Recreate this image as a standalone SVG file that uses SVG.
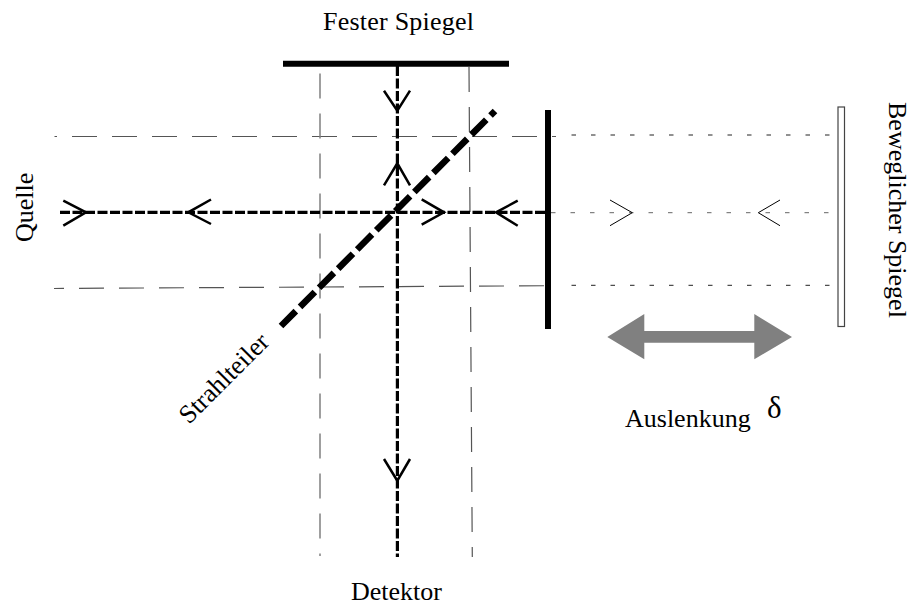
<svg xmlns="http://www.w3.org/2000/svg" width="912" height="605" viewBox="0 0 912 605">
<style>
text{font-family:"Liberation Serif","Times New Roman",serif;fill:#000;font-size:26px}
.thin{fill:none;stroke:#555;stroke-width:1.2;stroke-dasharray:25 15}
.dot{fill:none;stroke:#222;stroke-width:1;stroke-dasharray:4.5 15}
.beam{fill:none;stroke:#000;stroke-width:3.2;stroke-dasharray:10 2.5}
.head{fill:none;stroke:#000;stroke-width:2.5}
.headthin{fill:none;stroke:#000;stroke-width:1}
.mirror{fill:none;stroke:#000;stroke-width:6}
</style>
<rect width="912" height="605" fill="#fff"/>
<g id="connectors">
<line class="thin" x1="54.5" y1="136.5" x2="556" y2="136.5" stroke-dashoffset="22.5"/>
<line class="thin" x1="54" y1="288.5" x2="556" y2="285.7" stroke-dashoffset="15"/>
<line class="thin" x1="320" y1="73.5" x2="320" y2="556" style="stroke:#808080;stroke-width:1.5"/>
<line class="thin" x1="469" y1="67" x2="472.3" y2="557"/>
<line class="dot" x1="571.5" y1="135" x2="830" y2="135"/>
<line class="dot" x1="551" y1="212.7" x2="829" y2="212.7" style="stroke:#666"/>
<line class="dot" x1="571.5" y1="285.3" x2="830" y2="285.3"/>
<line class="beam" x1="60" y1="212.3" x2="548" y2="212.3"/>
<line class="beam" x1="397.4" y1="66" x2="397.4" y2="557"/>
<polyline class="head" points="63.3,200.7 86,212.3 63.3,225.7"/>
<polyline class="head" points="211,199.5 188.3,212.3 211,224"/>
<polyline class="head" points="384,90.7 397.3,110.7 410,90.7"/>
<polyline class="head" points="384,185.3 397.3,163.3 410,185.3"/>
<polyline class="head" points="421.7,199.3 444,212.3 421.7,224.7"/>
<polyline class="head" points="517.7,200.7 496,212.3 517.7,225.7"/>
<polyline class="head" points="384,459 397.3,480.7 410,459"/>
<polyline class="headthin" points="610,200 632.3,212.7 610,225.7"/>
<polyline class="headthin" points="780,200 758.3,212.7 780,225.7"/>
<polygon id="auslenkung-arrow" points="607.3,337 644.3,314 644.3,331 754.3,331 754.3,314 792,337 754.3,359.3 754.3,342.7 644.3,342.7 644.3,359.3" fill="#808080"/>
</g>
<g id="fester-spiegel"><line class="mirror" x1="283" y1="63.8" x2="509" y2="63.8"/><text x="323" y="30" textLength="151">Fester Spiegel</text></g>
<g id="strahlteiler"><line x1="281" y1="326" x2="495" y2="111" fill="none" stroke="#000" stroke-width="6.5" stroke-dasharray="21 6"/><text transform="translate(189,425) rotate(-45)">Strahlteiler</text></g>
<g id="kompensator"><line class="mirror" x1="548" y1="110" x2="548" y2="329"/></g>
<g id="beweglicher-spiegel"><rect x="838" y="107" width="6.5" height="219.5" fill="#fff" stroke="#444" stroke-width="1.2"/><text transform="translate(888.5,102) rotate(90)">Beweglicher Spiegel</text></g>
<g id="quelle"><text transform="translate(33,242) rotate(-90)">Quelle</text></g>
<g id="detektor"><text x="351" y="600">Detektor</text></g>
<g id="auslenkung"><text x="625" y="427">Auslenkung</text><text x="767" y="418" style="font-size:31px">δ</text></g>
</svg>
